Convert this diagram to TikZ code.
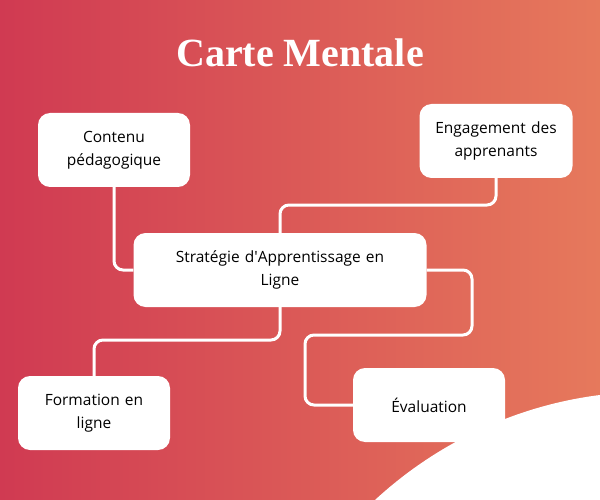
\documentclass[tikz,border=0pt]{standalone}
\usepackage{fontspec}
\setmainfont{Open Sans}
\newfontfamily\titlefont{Liberation Serif}
\definecolor{bgleft}{HTML}{D03A52}
\definecolor{bgright}{HTML}{E6795C}
\tikzstyle{ideaBox} = [rectangle, rounded corners=12pt, fill=white, align=center, text width=140pt, font=\fontsize{15.5}{23}\selectfont]
\tikzstyle{link} = [draw=white, line width=3pt, rounded corners=9pt]

\begin{document}
\begin{tikzpicture}[x=1pt,y=-1pt]
  \shade[left color=bgleft, right color=bgright] (0,0) rectangle (600,500);
  \fill[white] (375,500) .. controls (440,440) and (520,405) .. (600,395) -- (600,500) -- cycle;
  \node (title) at (300,53) {\titlefont\bfseries\fontsize{40}{42}\selectfont\textcolor{white}{Carte Mentale}};

  \node (central)[ideaBox, minimum width=293pt, minimum height=74pt, text width=270pt] at (280,270) {Stratégie d\textquotesingle Apprentissage en\\Ligne};
  \node (contenu)[ideaBox, minimum width=152pt, minimum height=74pt] at (114,150) {Contenu\\pédagogique};
  \node (engagement)[ideaBox, minimum width=153pt, minimum height=74pt] at (496,141) {Engagement des\\apprenants};
  \node (formation)[ideaBox, minimum width=152pt, minimum height=74pt] at (94,413) {Formation en\\ligne};
  \node (evaluation)[ideaBox, minimum width=152pt, minimum height=74pt] at (429,405) {Évaluation};

  \draw[link] (contenu.south) -- (114,270) -- (central.west);
  \draw[link] (engagement.south) -- (496,205) -- (280,205) -- (central.north);
  \draw[link] (central.south) -- (280,340) -- (94,340) -- (formation.north);
  \draw[link] (central.east) -- (472,270) -- (472,335) -- (305,335) -- (305,405) -- (evaluation.west);
\end{tikzpicture}
\end{document}
